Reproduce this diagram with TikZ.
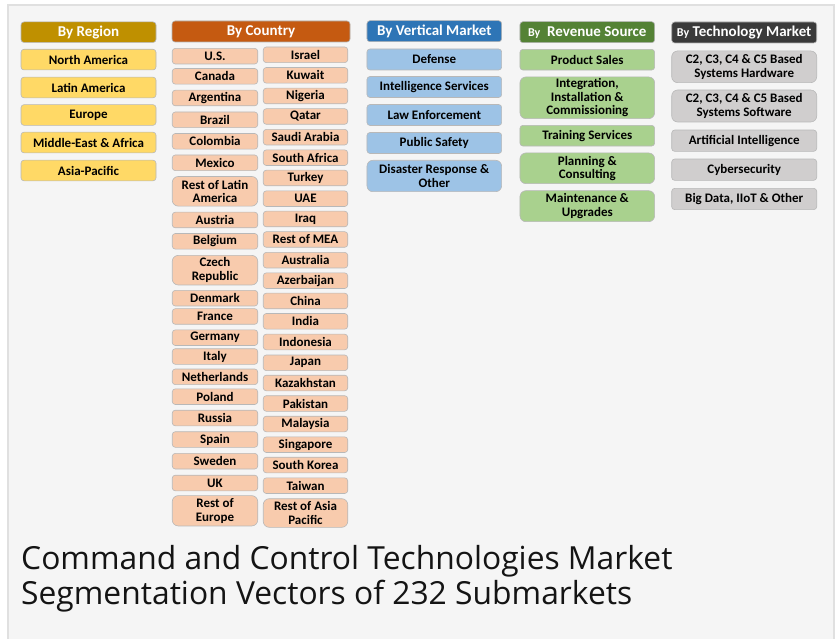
\documentclass[tikz,border=0pt]{standalone}
\usepackage{fontspec}
\setmainfont{Open Sans}
\newfontfamily\boxfont{Carlito}
\usetikzlibrary{backgrounds}
\definecolor{regionhead}{HTML}{BF9000}
\definecolor{regionfill}{HTML}{FFD966}
\definecolor{countryhead}{HTML}{C55A11}
\definecolor{countryfill}{HTML}{F8CBAD}
\definecolor{verthead}{HTML}{2E75B6}
\definecolor{vertfill}{HTML}{9DC3E6}
\definecolor{revhead}{HTML}{548235}
\definecolor{revfill}{HTML}{A9D18E}
\definecolor{techhead}{HTML}{3A3A3A}
\definecolor{techfill}{HTML}{D0CECE}
\definecolor{panel}{HTML}{F5F5F5}
\tikzstyle{head}=[rectangle, rounded corners=3pt, draw=black!30, line width=0.6pt, text=white, inner sep=0pt, anchor=center, font=\boxfont\bfseries\fontsize{15}{15}\selectfont]
\tikzstyle{seg}=[rectangle, rounded corners=3pt, draw=black!28, line width=0.6pt, text=black, inner sep=0pt, align=center, anchor=center, font=\boxfont\bfseries\fontsize{13}{13.5}\selectfont]
\tikzstyle{seg2}=[seg, rounded corners=6pt]
\tikzstyle{ctry}=[seg, fill=countryfill, minimum height=15.6pt]
\tikzstyle{ctry2}=[seg2, fill=countryfill, minimum height=29.6pt]
\newcommand{\smallby}{{\fontsize{12}{12}\selectfont By}}

\begin{document}
\begin{tikzpicture}[x=1pt, y=-1pt]
	\useasboundingbox (0,0) rectangle (836,639);
	\fill[white] (0,0) rectangle (836,639);
	\draw[fill=panel, draw=black!12, line width=2pt] (8,5) rectangle (834,650);

	% region
	\node[head, fill=regionhead, minimum width=135pt, minimum height=20.5pt](regionhead) at (88.5,32.2){By Region};
	\node[seg, fill=regionfill, minimum width=135pt, minimum height=20.7pt](northam) at (88.5,59.6){North America};
	\node[seg, fill=regionfill, minimum width=135pt, minimum height=20.7pt](latam) at (88.5,87.5){Latin America};
	\node[seg, fill=regionfill, minimum width=135pt, minimum height=20.7pt](europe) at (88.5,115){Europe};
	\node[seg, fill=regionfill, minimum width=135pt, minimum height=20.7pt](mea) at (88.5,142.5){Middle-East \& Africa};
	\node[seg, fill=regionfill, minimum width=135pt, minimum height=20.7pt](apac) at (88.5,170.5){Asia-Pacific};

	% country
	\node[head, fill=countryhead, minimum width=178pt, minimum height=21pt](countryhead) at (261,31.5){By Country};
	\begin{scope}[every node/.append style={minimum width=85.5pt}]
	\node[ctry](us) at (215,56.2){U.S.};
	\node[ctry](canada) at (215,76.3){Canada};
	\node[ctry](argentina) at (215,98){Argentina};
	\node[ctry](brazil) at (215,119.8){Brazil};
	\node[ctry](colombia) at (215,141.3){Colombia};
	\node[ctry](mexico) at (215,162.8){Mexico};
	\node[ctry2](restlatam) at (215,191.3){Rest of Latin\\America};
	\node[ctry](austria) at (215,220){Austria};
	\node[ctry](belgium) at (215,241.3){Belgium};
	\node[ctry2](czech) at (215,270.2){Czech\\Republic};
	\node[ctry](denmark) at (215,298.2){Denmark};
	\node[ctry](france) at (215,316.5){France};
	\node[ctry](germany) at (215,337.7){Germany};
	\node[ctry](italy) at (215,356.5){Italy};
	\node[ctry](netherlands) at (215,376.8){Netherlands};
	\node[ctry](poland) at (215,396.7){Poland};
	\node[ctry](russia) at (215,418){Russia};
	\node[ctry](spain) at (215,439.5){Spain};
	\node[ctry](sweden) at (215,461.2){Sweden};
	\node[ctry](uk) at (215,483){UK};
	\node[ctry2, minimum height=30.3pt](resteurope) at (215,510.8){Rest of\\Europe};
	\end{scope}
	\begin{scope}[every node/.append style={minimum width=84.5pt}]
	\node[ctry](israel) at (305.5,54.8){Israel};
	\node[ctry](kuwait) at (305.5,75.3){Kuwait};
	\node[ctry](nigeria) at (305.5,96){Nigeria};
	\node[ctry](qatar) at (305.5,116.5){Qatar};
	\node[ctry](saudi) at (305.5,137.2){Saudi Arabia};
	\node[ctry](southafrica) at (305.5,157.7){South Africa};
	\node[ctry](turkey) at (305.5,178){Turkey};
	\node[ctry](uae) at (305.5,198.7){UAE};
	\node[ctry](iraq) at (305.5,219){Iraq};
	\node[ctry](restmea) at (305.5,239.5){Rest of MEA};
	\node[ctry](australia) at (305.5,260.2){Australia};
	\node[ctry](azerbaijan) at (305.5,280.7){Azerbaijan};
	\node[ctry](china) at (305.5,301){China};
	\node[ctry](india) at (305.5,321.3){India};
	\node[ctry](indonesia) at (305.5,342){Indonesia};
	\node[ctry](japan) at (305.5,362.8){Japan};
	\node[ctry](kazakhstan) at (305.5,383){Kazakhstan};
	\node[ctry](pakistan) at (305.5,403.5){Pakistan};
	\node[ctry](malaysia) at (305.5,424){Malaysia};
	\node[ctry](singapore) at (305.5,444.7){Singapore};
	\node[ctry](southkorea) at (305.5,465){South Korea};
	\node[ctry](taiwan) at (305.5,485.7){Taiwan};
	\node[ctry2, minimum height=28.6pt](restapac) at (305.5,513){Rest of Asia\\Pacific};
	\end{scope}

	% vertical market
	\node[head, fill=verthead, minimum width=134.7pt, minimum height=21pt](verthead) at (434.3,31.2){By Vertical Market};
	\node[seg, fill=vertfill, minimum width=134.7pt, minimum height=21pt](defense) at (434.3,59.5){Defense};
	\node[seg, fill=vertfill, minimum width=134.7pt, minimum height=21pt](intel) at (434.3,87){Intelligence Services};
	\node[seg, fill=vertfill, minimum width=134.7pt, minimum height=21pt](law) at (434.3,115){Law Enforcement};
	\node[seg, fill=vertfill, minimum width=134.7pt, minimum height=21pt](safety) at (434.3,143){Public Safety};
	\node[seg2, fill=vertfill, minimum width=134.7pt, minimum height=31.4pt](disaster) at (434.3,176){Disaster Response \&\\Other};

	% revenue source
	\node[head, fill=revhead, minimum width=134.7pt, minimum height=21pt](revhead) at (587.3,32.2){\smallby\ \ Revenue Source};
	\node[seg, fill=revfill, minimum width=134.7pt, minimum height=20.7pt](sales) at (587.3,59.7){Product Sales};
	\node[seg2, fill=revfill, minimum width=134.7pt, minimum height=41.7pt](integration) at (587.3,97.8){Integration,\\Installation \&\\Commissioning};
	\node[seg, fill=revfill, minimum width=134.7pt, minimum height=20.7pt](training) at (587.3,135.7){Training Services};
	\node[seg2, fill=revfill, minimum width=134.7pt, minimum height=30.7pt](planning) at (587.3,168.3){Planning \&\\Consulting};
	\node[seg2, fill=revfill, minimum width=134.7pt, minimum height=31pt](maintenance) at (587.3,206.2){Maintenance \&\\Upgrades};

	% technology market
	\node[head, fill=techhead, minimum width=145pt, minimum height=21pt](techhead) at (744.2,32.5){\smallby\ Technology Market};
	\node[seg2, fill=techfill, minimum width=145pt, minimum height=31.7pt](hardware) at (744.2,66.8){C2, C3, C4 \& C5 Based\\Systems Hardware};
	\node[seg2, fill=techfill, minimum width=145pt, minimum height=32pt](software) at (744.2,106){C2, C3, C4 \& C5 Based\\Systems Software};
	\node[seg, fill=techfill, minimum width=145pt, minimum height=21.3pt](ai) at (744.2,140.7){Artificial Intelligence};
	\node[seg, fill=techfill, minimum width=145pt, minimum height=21.3pt](cyber) at (744.2,169.7){Cybersecurity};
	\node[seg, fill=techfill, minimum width=145pt, minimum height=21.3pt](bigdata) at (744.2,199){Big Data, IIoT \& Other};

	% title
	\node[anchor=north west, align=left, inner sep=0pt, text=black!92, font=\fontsize{31.8}{35}\selectfont](title) at (21,545){Command and Control Technologies Market\\Segmentation Vectors of 232 Submarkets};
\end{tikzpicture}
\end{document}
